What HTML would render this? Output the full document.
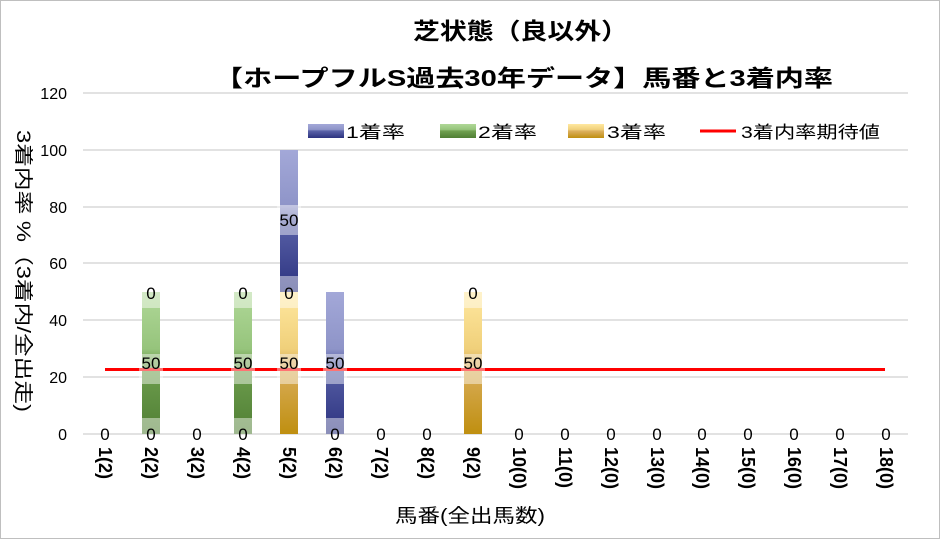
<!DOCTYPE html>
<html><head><meta charset="utf-8"><style>
body{margin:0;background:#fff}
svg{display:block;font-family:"Liberation Sans","Noto Sans CJK JP",sans-serif}
</style></head><body>
<svg width="940" height="539" viewBox="0 0 940 539" xmlns="http://www.w3.org/2000/svg">
<defs>
<linearGradient id="b" x1="0" y1="0" x2="0" y2="1"><stop offset="0" stop-color="#a3a8d8"/><stop offset="0.4" stop-color="#8e94c8"/><stop offset="0.5" stop-color="#5a62a8"/><stop offset="1" stop-color="#2c3380"/></linearGradient>
<linearGradient id="g" x1="0" y1="0" x2="0" y2="1"><stop offset="0" stop-color="#b0d898"/><stop offset="0.4" stop-color="#96c47c"/><stop offset="0.5" stop-color="#70a050"/><stop offset="1" stop-color="#507f34"/></linearGradient>
<linearGradient id="y" x1="0" y1="0" x2="0" y2="1"><stop offset="0" stop-color="#ffe8a0"/><stop offset="0.4" stop-color="#f0d07a"/><stop offset="0.5" stop-color="#dcb060"/><stop offset="1" stop-color="#bf8f10"/></linearGradient>
</defs>
<rect x="0.5" y="0.5" width="939" height="538" fill="#fff" stroke="#bfbfbf"/>
<text x="413" y="39" font-size="23" font-weight="bold" textLength="215" lengthAdjust="spacingAndGlyphs">芝状態（良以外）</text>
<text x="214" y="86" font-size="23" font-weight="bold" textLength="619" lengthAdjust="spacingAndGlyphs">【ホープフルS過去30年データ】馬番と3着内率</text>
<g stroke="#d9d9d9" stroke-width="1.5">
<line x1="83" y1="93" x2="908" y2="93"/><line x1="83" y1="150" x2="908" y2="150"/><line x1="83" y1="207" x2="908" y2="207"/><line x1="83" y1="263" x2="908" y2="263"/><line x1="83" y1="320" x2="908" y2="320"/><line x1="83" y1="377" x2="908" y2="377"/><line x1="83" y1="434" x2="908" y2="434"/>
</g>
<g font-size="16" text-anchor="end" fill="#000">
<text x="67" y="99">120</text><text x="67" y="156">100</text><text x="67" y="213">80</text><text x="67" y="269">60</text><text x="67" y="326">40</text><text x="67" y="383">20</text><text x="67" y="440">0</text>
</g>
<text transform="translate(17,130) rotate(90)" font-size="19" textLength="282" lengthAdjust="spacingAndGlyphs">3着内率 %（3着内/全出走)</text>
<!-- legend -->
<rect x="308" y="124" width="36" height="14" fill="url(#b)"/><text x="346" y="138" font-size="17" textLength="59" lengthAdjust="spacingAndGlyphs">1着率</text>
<rect x="440" y="124" width="36" height="14" fill="url(#g)"/><text x="478" y="138" font-size="17" textLength="59" lengthAdjust="spacingAndGlyphs">2着率</text>
<rect x="568" y="124" width="36" height="14" fill="url(#y)"/><text x="607" y="138" font-size="17" textLength="59" lengthAdjust="spacingAndGlyphs">3着率</text>
<line x1="700" y1="131" x2="736" y2="131" stroke="#f00" stroke-width="3"/><text x="741" y="138" font-size="17" textLength="139" lengthAdjust="spacingAndGlyphs">3着内率期待値</text>
<!-- bars -->
<rect x="142" y="292" width="18" height="142" fill="url(#g)"/>
<rect x="234" y="292" width="18" height="142" fill="url(#g)"/>
<rect x="280" y="292" width="18" height="142" fill="url(#y)"/>
<rect x="280" y="150" width="18" height="142" fill="url(#b)"/>
<rect x="326" y="292" width="18" height="142" fill="url(#b)"/>
<rect x="464" y="292" width="18" height="142" fill="url(#y)"/>
<line x1="105" y1="369.5" x2="885" y2="369.5" stroke="#f00" stroke-width="3"/>
<g fill="#fff" fill-opacity="0.45">
<rect x="139" y="354" width="24" height="30"/><rect x="231" y="354" width="24" height="30"/><rect x="277" y="354" width="24" height="30"/><rect x="323" y="354" width="24" height="30"/><rect x="461" y="354" width="24" height="30"/>
<rect x="277" y="205" width="24" height="30"/><rect x="277" y="276" width="24" height="16"/>
<rect x="142" y="418" width="18" height="16"/><rect x="234" y="418" width="18" height="16"/><rect x="326" y="418" width="18" height="16"/>
<rect x="142" y="292" width="18" height="16"/><rect x="234" y="292" width="18" height="16"/><rect x="280" y="292" width="18" height="16"/><rect x="464" y="292" width="18" height="16"/>
</g>
<g font-size="17" text-anchor="middle">
<text x="151" y="369">50</text><text x="243" y="369">50</text><text x="289" y="369">50</text><text x="335" y="369">50</text><text x="473" y="369">50</text>
<text x="289" y="226">50</text>
<text x="151" y="299">0</text><text x="243" y="299">0</text><text x="289" y="299">0</text><text x="473" y="299">0</text>
<text x="105" y="440">0</text><text x="151" y="440">0</text><text x="197" y="440">0</text><text x="243" y="440">0</text><text x="335" y="440">0</text><text x="381" y="440">0</text><text x="427" y="440">0</text><text x="519" y="440">0</text><text x="565" y="440">0</text><text x="611" y="440">0</text><text x="657" y="440">0</text><text x="702" y="440">0</text><text x="748" y="440">0</text><text x="794" y="440">0</text><text x="840" y="440">0</text><text x="886" y="440">0</text>
</g>
<g font-size="18" font-weight="bold">
<text transform="translate(99,447) rotate(90)">1(2)</text>
<text transform="translate(145,447) rotate(90)">2(2)</text>
<text transform="translate(191,447) rotate(90)">3(2)</text>
<text transform="translate(237,447) rotate(90)">4(2)</text>
<text transform="translate(283,447) rotate(90)">5(2)</text>
<text transform="translate(329,447) rotate(90)">6(2)</text>
<text transform="translate(375,447) rotate(90)">7(2)</text>
<text transform="translate(421,447) rotate(90)">8(2)</text>
<text transform="translate(467,447) rotate(90)">9(2)</text>
<text transform="translate(513,447) rotate(90)">10(0)</text>
<text transform="translate(559,447) rotate(90)">11(0)</text>
<text transform="translate(605,447) rotate(90)">12(0)</text>
<text transform="translate(651,447) rotate(90)">13(0)</text>
<text transform="translate(696,447) rotate(90)">14(0)</text>
<text transform="translate(742,447) rotate(90)">15(0)</text>
<text transform="translate(788,447) rotate(90)">16(0)</text>
<text transform="translate(834,447) rotate(90)">17(0)</text>
<text transform="translate(880,447) rotate(90)">18(0)</text>
</g>
<text x="395" y="522" font-size="19" textLength="150" lengthAdjust="spacingAndGlyphs">馬番(全出馬数)</text>
</svg>
</body></html>
